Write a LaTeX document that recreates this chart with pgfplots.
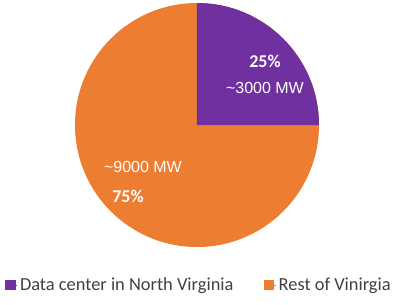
\documentclass[border=0pt]{standalone}
\usepackage{pgfplots}
\pgfplotsset{compat=1.18}
\usepackage{pgfplotstable}
\usepackage{fontspec}
\setmainfont{Carlito}
\newfontfamily\arialfont{Liberation Sans}
\definecolor{cpurple}{HTML}{7030A0}
\definecolor{corange}{HTML}{ED7D31}
\pgfplotstableread{
label value
dc 25
rest 75
}\piedata
\begin{document}
\begin{tikzpicture}
\useasboundingbox (-147.75pt,-134.25pt) rectangle (152.25pt,93.75pt);
\pgfplotstablegetelem{0}{value}\of\piedata \let\va\pgfplotsretval
\pgfplotstablegetelem{1}{value}\of\piedata \let\vb\pgfplotsretval
\begin{axis}[
  at={(0,0)}, anchor=center,
  scale only axis, width=183pt, height=183pt,
  xmin=-1, xmax=1, ymin=-1, ymax=1,
  hide axis, clip=false,
  legend columns=2,
  legend style={draw=none, fill=none, at={(0.51,-0.155)}, anchor=center,
    font=\fontsize{13.8}{16}\selectfont, text=black!75,
    /tikz/every even column/.append style={column sep=21pt}},
  legend image code/.code={\path (0pt,0pt) -- (8.5pt,0pt);\fill[#1] (0pt,-3.5pt) rectangle (7pt,3.5pt);},
]
\addlegendimage{cpurple}
\addlegendentry{Data center in North Virginia}
\addlegendimage{corange}
\addlegendentry{Rest of Vinirgia}
\pgfmathsetmacro{\angA}{90-360*\va/(\va+\vb)}
\fill[corange] (axis cs:0,0) -- (axis cs:0,1) arc[start angle=90, end angle=\angA-360, radius=1] -- cycle;
\fill[cpurple] (axis cs:0,0) -- (axis cs:0,1) arc[start angle=90, end angle=\angA, radius=1] -- cycle;
\node[text=white, font=\fontsize{13.5}{15}\selectfont\bfseries] at (axis cs:0.557,0.52) {25\%};
\node[text=white, font=\arialfont\fontsize{12}{14}\selectfont] at (axis cs:0.557,0.30) {\textasciitilde3000 MW};
\node[text=white, font=\arialfont\fontsize{12}{14}\selectfont] at (axis cs:-0.443,-0.344) {\textasciitilde9000 MW};
\node[text=white, font=\fontsize{13.5}{15}\selectfont\bfseries] at (axis cs:-0.566,-0.582) {75\%};
\end{axis}
\end{tikzpicture}
\end{document}
